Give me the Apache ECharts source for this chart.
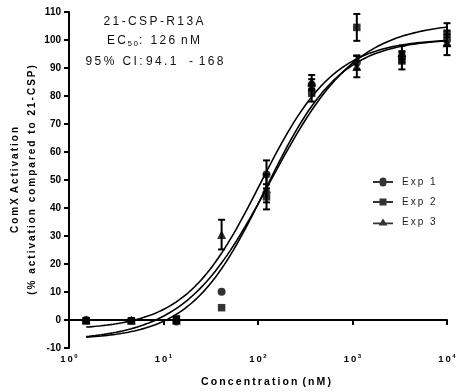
<!DOCTYPE html>
<html>
<head>
<meta charset="utf-8">
<script src="https://cdn.jsdelivr.net/npm/echarts@6/dist/echarts.min.js"></script>
<style>
  html, body { margin: 0; padding: 0; background: #fff; }
  #chart { width: 465px; height: 392px; }
</style>
</head>
<body>
<div id="chart"></div>
<script>
// Peptide concentrations (nM), 3-fold dilution series
const concentrations = [1.52, 4.57, 13.7, 41.2, 123, 370, 1111, 3333, 10000];

// Mean ComX activation (% of 21-CSP) and error per experiment
const exp1Values = [0.0, -0.3, -0.5, 10.1, 52.0, 84.0, 92.0, 94.0, 100.0];
const exp1Errors = [0.5, 0.5, 0.5, 0.0, 5.0, 2.0, 2.5, 2.0, 2.0];
const exp2Values = [-0.3, -0.3, 0.5, 4.4, 44.0, 81.0, 104.5, 92.5, 102.0];
const exp2Errors = [0.5, 0.5, 0.5, 0.0, 4.5, 3.0, 4.8, 3.0, 4.0];
const exp3Values = [0.0, 0.0, 0.0, 30.5, 47.0, 85.0, 90.5, 95.5, 99.0];
const exp3Errors = [0.5, 0.5, 0.5, 5.3, 5.0, 2.5, 3.8, 2.5, 4.4];

// Four-parameter logistic fit of each experiment
const fitBottom = [-7.0, -7.5, -3.5];
const fitTop = [100.5, 106.5, 100.5];
const fitEC50 = [120, 135, 105];
const fitHill = [1.1, 0.95, 1.1];

const seriesNames = ['Exp 1', 'Exp 2', 'Exp 3'];
const yTicks = [-10, 0, 10, 20, 30, 40, 50, 60, 70, 80, 90, 100, 110];

const FONT = '"Liberation Sans", Arial, Helvetica, sans-serif';
const SP = '\u2009';
const spaced = s => s.split('').join(SP);

function fitCurve(k) {
  const pts = [];
  const lo = Math.log10(concentrations[0]);
  const hi = Math.log10(concentrations[concentrations.length - 1]);
  const n = 120;
  for (let i = 0; i <= n; i++) {
    const lx = lo + (hi - lo) * i / n;
    const y = fitBottom[k] + (fitTop[k] - fitBottom[k]) /
      (1 + Math.pow(10, (Math.log10(fitEC50[k]) - lx) * fitHill[k]));
    pts.push([Math.pow(10, lx), y]);
  }
  return pts;
}

const valueSets = [exp1Values, exp2Values, exp3Values];
const errorSets = [exp1Errors, exp2Errors, exp3Errors];
const symbols = ['circle', 'rect', 'triangle'];
const symbolSizes = [8, 7.5, 9];

const legendIcons = [
  'path://M0,4.1 L6.5,4.1 A3.5,3.5 0 0 1 13.5,4.1 L20,4.1 L20,5.9 L13.5,5.9 A3.5,3.5 0 0 1 6.5,5.9 L0,5.9 Z',
  'path://M0,4.1 L6.5,4.1 L6.5,1.5 L13.5,1.5 L13.5,4.1 L20,4.1 L20,5.9 L13.5,5.9 L13.5,8.5 L6.5,8.5 L6.5,5.9 L0,5.9 Z',
  'path://M0,5.1 L7.4,5.1 L10,1 L12.6,5.1 L20,5.1 L20,6.9 L13.7,6.9 L14.5,8.2 L5.5,8.2 L6.3,6.9 L0,6.9 Z'
];

const series = [];
for (let k = 0; k < 3; k++) {
  series.push({
    type: 'line',
    name: seriesNames[k] + ' fit',
    data: fitCurve(k),
    showSymbol: false,
    symbol: 'none',
    lineStyle: { color: '#000', width: 1.6 },
    silent: true,
    z: 2
  });
}
for (let k = 0; k < 3; k++) {
  series.push({
    type: 'custom',
    name: seriesNames[k] + ' err',
    data: concentrations.map((c, i) => [c, valueSets[k][i], errorSets[k][i]]),
    encode: { x: 0, y: 1 },
    renderItem: function (params, api) {
      const x = api.value(0), y = api.value(1), e = api.value(2);
      if (!e) return null;
      const top = api.coord([x, y + e]);
      const bot = api.coord([x, y - e]);
      const hw = 3.5;
      const st = { stroke: '#000', lineWidth: 2 };
      return {
        type: 'group',
        children: [
          { type: 'line', shape: { x1: top[0], y1: top[1], x2: bot[0], y2: bot[1] }, style: st },
          { type: 'line', shape: { x1: top[0] - hw, y1: top[1], x2: top[0] + hw, y2: top[1] }, style: st },
          { type: 'line', shape: { x1: bot[0] - hw, y1: bot[1], x2: bot[0] + hw, y2: bot[1] }, style: st }
        ]
      };
    },
    silent: true,
    z: 3
  });
}
for (let k = 0; k < 3; k++) {
  series.push({
    type: 'scatter',
    name: seriesNames[k],
    data: concentrations.map((c, i) => [c, valueSets[k][i]]),
    symbol: symbols[k],
    symbolSize: symbolSizes[k],
    itemStyle: { color: '#000' },
    z: 4
  });
}

const chart = echarts.init(document.getElementById('chart'), null, { renderer: 'canvas' });
chart.setOption({
  animation: false,
  backgroundColor: '#fff',
  grid: { left: 69, right: 18, top: 12, bottom: 44, containLabel: false, outerBoundsMode: 'none' },
  xAxis: {
    type: 'log',
    logBase: 10,
    min: 1,
    max: 10000,
    name: spaced('Concentration') + ' ' + SP + spaced('(nM)'),
    nameLocation: 'middle',
    nameGap: 29,
    nameMoveOverlap: false,
    nameTextStyle: { fontFamily: FONT, fontWeight: 'bold', fontSize: 10.5, color: '#000', padding: [0, 0, 0, 16] },
    axisLine: { lineStyle: { color: '#000', width: 2 } },
    axisTick: { show: true, inside: false, length: 5, lineStyle: { color: '#000', width: 2 } },
    minorTick: { show: false },
    splitLine: { show: false },
    axisLabel: {
      margin: 5,
      formatter: v => '{b|1' + SP + '0}{s|' + Math.round(Math.log10(v)) + '}',
      rich: {
        b: { fontFamily: FONT, fontWeight: 'bold', fontSize: 9.5, color: '#000', lineHeight: 12 },
        s: { fontFamily: FONT, fontWeight: 'bold', fontSize: 6, color: '#000', verticalAlign: 'top', padding: [0, 0, 0, 1.5] }
      }
    }
  },
  yAxis: {
    type: 'value',
    min: -10,
    max: 110,
    interval: 10,
    name: spaced('ComX') + ' ' + SP + spaced('Activation') + '\n' + spaced('(% activation compared to 21-CSP)'),
    nameLocation: 'middle',
    nameGap: 28,
    nameMoveOverlap: false,
    nameTextStyle: { fontFamily: FONT, fontWeight: 'bold', fontSize: 10, color: '#000', lineHeight: 17, align: 'center' },
    axisLine: { show: true, lineStyle: { color: '#000', width: 2 } },
    axisTick: { show: true, inside: false, length: 5, lineStyle: { color: '#000', width: 2 } },
    splitLine: { show: false },
    axisLabel: {
      margin: 8,
      fontFamily: FONT, fontWeight: 'bold', fontSize: 10, color: '#000',
      formatter: v => yTicks.includes(v) ? String(v) : ''
    }
  },
  legend: {
    orient: 'vertical',
    left: 373,
    top: 177,
    padding: 0,
    itemWidth: 20,
    itemHeight: 10,
    itemGap: 10,
    data: seriesNames.map((n, k) => ({ name: n, icon: legendIcons[k] })),
    formatter: n => spaced(n),
    textStyle: { fontFamily: FONT, fontSize: 10, color: '#222', padding: [0, 0, 0, 4] },
    selectedMode: false
  },
  graphic: [
    {
      type: 'text', x: 153.5, y: 22,
      style: { text: spaced('21-CSP-R13A'), font: '12px ' + FONT, fill: '#111', textAlign: 'center', textVerticalAlign: 'middle' }
    },
    {
      type: 'text', x: 153.5, y: 41,
      style: {
        text: '{a|' + spaced('EC') + '}{b|' + spaced('50') + '}{a|:' + ' ' + SP + SP + spaced('126') + ' ' + SP + spaced('nM') + '}',
        textAlign: 'center', textVerticalAlign: 'middle',
        rich: {
          a: { fontFamily: FONT, fontSize: 12, fill: '#111', color: '#111', lineHeight: 14 },
          b: { fontFamily: FONT, fontSize: 8, fill: '#111', color: '#111', verticalAlign: 'bottom', padding: [0, 1, 0, 1.5] }
        }
      }
    },
    {
      type: 'text', x: 154.5, y: 62,
      style: {
        text: spaced('95%') + ' ' + SP + SP + spaced('CI:') + ' ' + spaced('94.1') + '   ' + SP + '-' + ' ' + SP + spaced('168'),
        font: '12px ' + FONT, fill: '#111', textAlign: 'center', textVerticalAlign: 'middle'
      }
    }
  ],
  series: series
});
</script>
</body>
</html>
